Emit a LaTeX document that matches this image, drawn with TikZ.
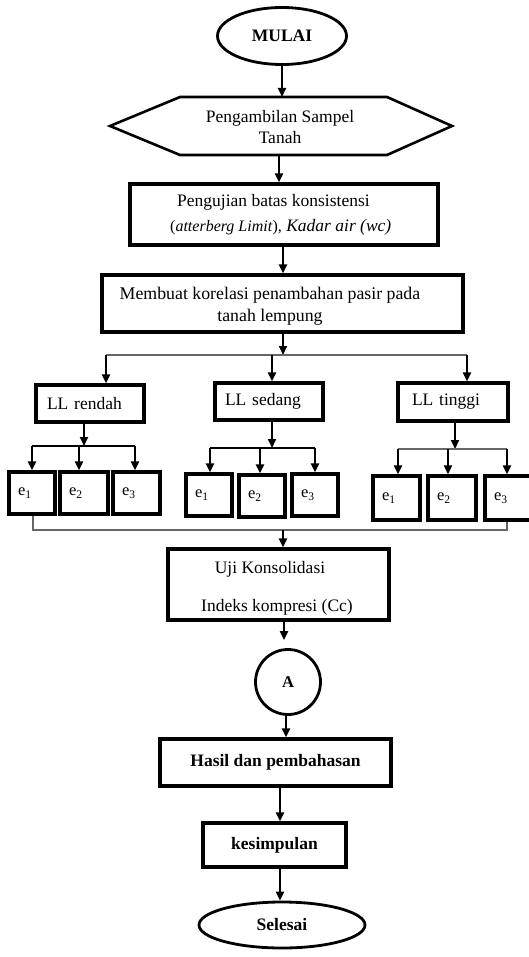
\documentclass[tikz,border=0pt]{standalone}
\usepackage{fontspec}
\setmainfont{Liberation Serif}
\usetikzlibrary{arrows.meta,shapes.geometric}
\begin{document}
\begin{tikzpicture}[x=1pt,y=-1pt,
  box/.style={draw,line width=3.2pt,rectangle,inner sep=0pt},
  ebox/.style={box,font=\fontsize{16.5}{18}\selectfont,align=left},
  arr/.style={line width=2pt,-{Triangle[length=9pt,width=8pt]}},
  ln/.style={line width=1.3pt,draw=black!60},
  txt/.style={font=\fontsize{17.5}{21}\selectfont,inner sep=0pt}]
\useasboundingbox (0,0) rectangle (528,957);
% start
\node[ellipse,draw,line width=2.8pt,minimum width=129,minimum height=57,inner sep=0pt,font=\bfseries\fontsize{17.5}{20}\selectfont] (mulai) at (282,36) {MULAI};
% hexagon
\draw[line width=2.6pt,line join=miter] (110,126) -- (180,97) -- (387,97) -- (452,126) -- (387,155) -- (180,155) -- cycle;
\coordinate (hexT) at (282,97);
\coordinate (hexB) at (279,155);
\node[txt,align=center] (hextxt) at (280,127) {Pengambilan Sampel\\[0pt]Tanah};
% box 1
\node[box,minimum width=308,minimum height=61] (b1) at (284,214.5) {};
\node[txt,anchor=west] (b1a) at (177,202) {Pengujian batas konsistensi};
\node[txt,anchor=west] (b1b) at (170,227) {{\fontsize{16}{18}\selectfont(\textit{atterberg Limit}),} \textit{Kadar air (wc)}};
% box 2
\node[box,minimum width=361,minimum height=57] (b2) at (282.5,303.5) {};
\node[txt,align=center,font=\fontsize{17.8}{22}\selectfont] (b2t) at (270,306) {Membuat korelasi penambahan pasir pada\\tanah lempung};
% LL boxes
\node[box,minimum width=108,minimum height=37,text width=86,align=left,font=\fontsize{17.5}{20}\selectfont] (llr) at (90,403.5) {LL rendah};
\node[box,minimum width=108,minimum height=37,text width=88,align=left,font=\fontsize{17.5}{20}\selectfont] (lls) at (269,401.5) {LL sedang};
\node[box,minimum width=110,minimum height=38,text width=82,align=left,font=\fontsize{17.5}{20}\selectfont] (llt) at (453,402) {LL tinggi};
% e boxes
\node[ebox,minimum width=46,minimum height=42,text width=28] (er1) at (32,493) {e\textsubscript{1}};
\node[ebox,minimum width=48,minimum height=42,text width=30] (er2) at (84,493) {e\textsubscript{2}};
\node[ebox,minimum width=47,minimum height=42,text width=29] (er3) at (136.5,493) {e\textsubscript{3}};
\node[ebox,minimum width=46,minimum height=42,text width=28] (es1) at (209,495) {e\textsubscript{1}};
\node[ebox,minimum width=46,minimum height=42,text width=28] (es2) at (262,496) {e\textsubscript{2}};
\node[ebox,minimum width=46,minimum height=42,text width=28] (es3) at (315,495) {e\textsubscript{3}};
\node[ebox,minimum width=47,minimum height=44,text width=29] (et1) at (396.5,498) {e\textsubscript{1}};
\node[ebox,minimum width=48,minimum height=44,text width=30] (et2) at (452,498) {e\textsubscript{2}};
\node[ebox,minimum width=48,minimum height=44,text width=30] (et3) at (509,498) {e\textsubscript{3}};
% uji
\node[box,minimum width=221,minimum height=71] (uji) at (278.5,584.5) {};
\node[txt] (uji1) at (270,569) {Uji Konsolidasi};
\node[txt] (uji2) at (277,607) {Indeks kompresi (Cc)};
% connector A
\node[circle,draw,line width=2.8pt,minimum size=65,inner sep=0pt,font=\bfseries\fontsize{16.5}{18}\selectfont] (A) at (288,682) {A};
% hasil
\node[box,minimum width=231,minimum height=47,font=\bfseries\fontsize{17.5}{20}\selectfont] (hasil) at (275.5,762.5) {Hasil dan pembahasan};
\node[box,minimum width=143,minimum height=44,font=\bfseries\fontsize{17.5}{20}\selectfont] (kes) at (274.5,845) {kesimpulan};
\node[ellipse,draw,line width=2.8pt,minimum width=166,minimum height=46,inner sep=0pt,font=\bfseries\fontsize{17.5}{20}\selectfont] (selesai) at (282,925) {Selesai};
% connectors top
\draw[arr] (mulai.south) -- (hexT);
\draw[arr] (hexB) -- (hexB |- b1.north);
\coordinate (c1) at (283,245);
\draw[arr] (c1) -- (c1 |- b2.north);
% split to LL
\coordinate (sp) at (283,355);
\coordinate (spL) at (106,355);
\coordinate (spM) at (272,355);
\coordinate (spR) at (467,355);
\draw[arr] (b2.south -| sp) -- (sp);
\draw[ln] (spL) -- (spR);
\draw[arr] (spL) -- (spL |- llr.north);
\draw[arr] (spM) -- (spM |- lls.north);
\draw[arr] (spR) -- (spR |- llt.north);
% rendah
\coordinate (rS) at (84,446);
\coordinate (rL) at (32,446);
\coordinate (rM) at (79,446);
\coordinate (rR) at (135,446);
\draw[arr] (rS |- llr.south) -- (rS);
\draw[line width=1.4pt] (rL) -- (rR);
\draw[arr] (rL) -- (rL |- er1.north);
\draw[arr] (rM) -- (rM |- er2.north);
\draw[arr] (rR) -- (rR |- er3.north);
% sedang
\coordinate (sS) at (272,448);
\coordinate (sL) at (210,448);
\coordinate (sM) at (260,448);
\coordinate (sR) at (315,448);
\draw[arr] (sS |- lls.south) -- (sS);
\draw[line width=1.4pt] (sL) -- (sR);
\draw[arr] (sL) -- (sL |- es1.north);
\draw[arr] (sM) -- (sM |- es2.north);
\draw[arr] (sR) -- (sR |- es3.north);
% tinggi
\coordinate (tS) at (455,449);
\coordinate (tL) at (398,449);
\coordinate (tM) at (448,449);
\coordinate (tR) at (507,449);
\draw[arr] (tS |- llt.south) -- (tS);
\draw[ln,line width=1.2pt] (tL) -- (tR);
\draw[arr] (tL) -- (tL |- et1.north);
\draw[arr] (tM) -- (tM |- et2.north);
\draw[arr] (tR) -- (tR |- et3.north);
% collector
\coordinate (cL) at (33,530);
\coordinate (cR) at (507,530);
\coordinate (cM) at (283,530);
\draw[ln] (cL |- er1.south) -- (cL) -- (cR) -- (cR |- et3.south);
\draw[arr] (cM) -- (cM |- uji.north);
% lower chain
\coordinate (d1) at (284,620);
\coordinate (d2) at (286,715);
\coordinate (d3) at (280,786);
\coordinate (d4) at (280,867);
\draw[arr,shorten >=8pt] (d1) -- (d1 |- A.north);
\draw[arr] (d2) -- (d2 |- hasil.north);
\draw[arr] (d3) -- (d3 |- kes.north);
\draw[arr] (d4) -- (d4 |- selesai.north);
\end{tikzpicture}
\end{document}
